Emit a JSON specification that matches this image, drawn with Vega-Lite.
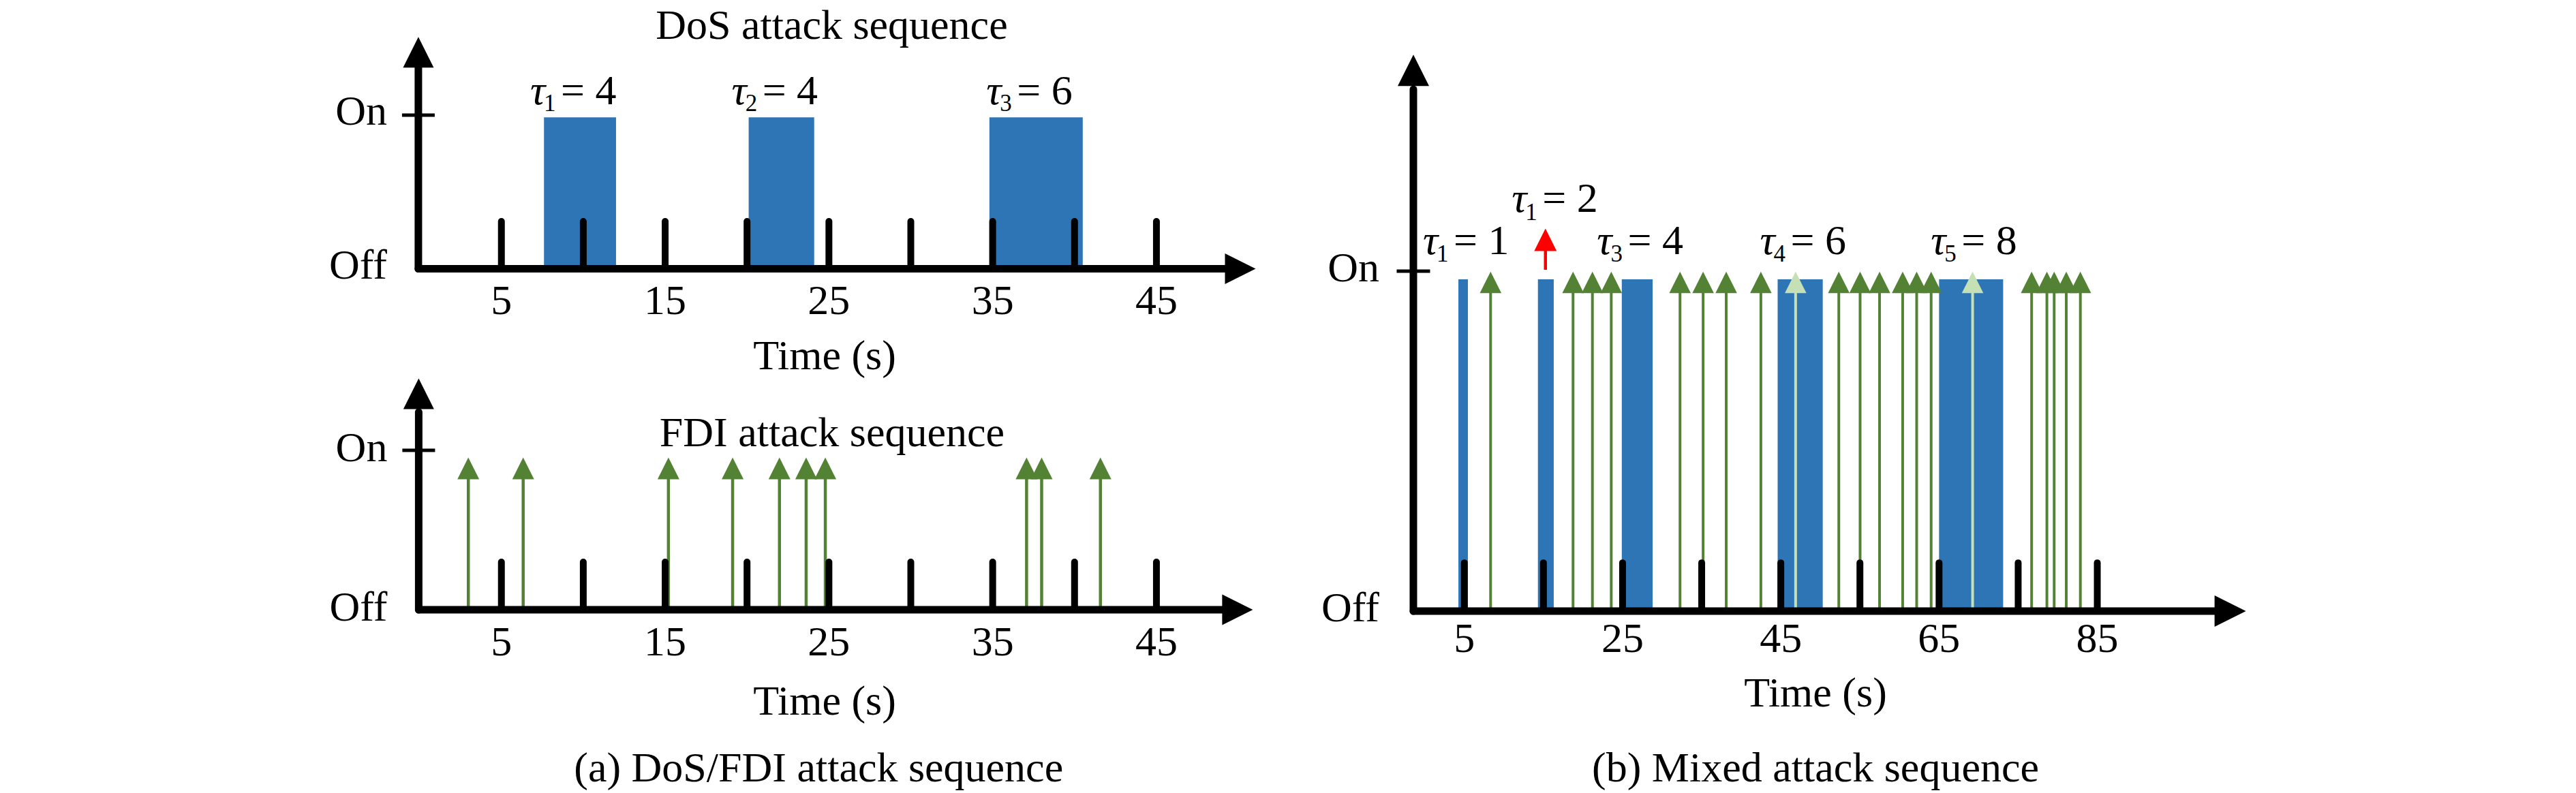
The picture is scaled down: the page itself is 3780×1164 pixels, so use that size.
{
  "$schema": "https://vega.github.io/schema/vega-lite/v6.json",
  "width": 3780,
  "height": 1164,
  "autosize": {"type": "fit", "contains": "padding"},
  "padding": 0,
  "background": "#ffffff",
  "config": {
    "view": {"stroke": null},
    "text": {"font": "Liberation Serif", "fontSize": 62, "color": "#000000", "baseline": "alphabetic"}
  },
  "datasets": {
    "one": [{}],
    "levels": [{"state": "Off", "v": 0}, {"state": "On", "v": 1}],
    "pulsesA": [{"t": 5}, {"t": 10}, {"t": 15}, {"t": 20}, {"t": 25}, {"t": 30}, {"t": 35}, {"t": 40}, {"t": 45}],
    "ticksA": [{"t": 5}, {"t": 15}, {"t": 25}, {"t": 35}, {"t": 45}],
    "dosA": [
      {"start": 7.6, "end": 12.0, "mid": 9.8, "k": "1", "dur": 4, "rhs": "= 4"},
      {"start": 20.1, "end": 24.1, "mid": 22.1, "k": "2", "dur": 4, "rhs": "= 4"},
      {"start": 34.8, "end": 40.5, "mid": 37.65, "k": "3", "dur": 6, "rhs": "= 6"}
    ],
    "fdiA": [{"t": 2.98}, {"t": 6.33}, {"t": 15.2}, {"t": 19.12}, {"t": 21.98}, {"t": 23.61}, {"t": 24.78}, {"t": 37.07}, {"t": 37.99}, {"t": 41.58}],
    "pulsesB": [{"t": 5}, {"t": 15}, {"t": 25}, {"t": 35}, {"t": 45}, {"t": 55}, {"t": 65}, {"t": 75}, {"t": 85}],
    "ticksB": [{"t": 5}, {"t": 25}, {"t": 45}, {"t": 65}, {"t": 85}],
    "dosB": [
      {"start": 4.25, "end": 5.45, "mid": 4.85, "k": "1", "dur": 1, "rhs": "= 1"},
      {"start": 14.3, "end": 16.3, "mid": 15.3, "k": "1", "dur": 2, "rhs": "= 2"},
      {"start": 24.9, "end": 28.8, "mid": 26.85, "k": "3", "dur": 4, "rhs": "= 4"},
      {"start": 44.6, "end": 50.3, "mid": 47.45, "k": "4", "dur": 6, "rhs": "= 6"},
      {"start": 65.0, "end": 73.1, "mid": 69.05, "k": "5", "dur": 8, "rhs": "= 8"}
    ],
    "fdiB": [
      {"t": 8.32, "phase": "normal"}, {"t": 18.74, "phase": "normal"}, {"t": 21.19, "phase": "normal"}, {"t": 23.57, "phase": "normal"},
      {"t": 32.26, "phase": "normal"}, {"t": 35.18, "phase": "normal"}, {"t": 38.1, "phase": "normal"}, {"t": 42.48, "phase": "normal"},
      {"t": 46.87, "phase": "during DoS"}, {"t": 52.33, "phase": "normal"}, {"t": 55.02, "phase": "normal"}, {"t": 57.48, "phase": "normal"},
      {"t": 60.4, "phase": "normal"}, {"t": 62.17, "phase": "normal"}, {"t": 64.0, "phase": "normal"}, {"t": 69.24, "phase": "during DoS"},
      {"t": 76.7, "phase": "normal"}, {"t": 78.63, "phase": "normal"}, {"t": 79.55, "phase": "normal"}, {"t": 81.08, "phase": "normal"}, {"t": 82.86, "phase": "normal"}
    ],
    "redB": [{"t": 15.25}]
  },
  "layer": [
    {
      "layer": [
        {"data": {"name": "dosA"}, "mark": {"type": "rect", "color": "#2E75B6"},
         "encoding": {"x": {"field": "start", "type": "quantitative", "scale": {"domain": [-25.618, 131.686], "nice": false, "zero": false}, "axis": null}, "x2": {"field": "end"},
                      "y": {"datum": 0, "type": "quantitative", "scale": {"domain": [-3.4124, 1.7494], "nice": false, "zero": false}, "axis": null}, "y2": {"datum": 0.985}}},
        {"data": {"name": "pulsesA"}, "mark": {"type": "rule", "color": "#000000", "strokeWidth": 10, "strokeCap": "round"},
         "encoding": {"x": {"field": "t", "type": "quantitative", "scale": {"domain": [-25.618, 131.686], "nice": false, "zero": false}, "axis": null},
                      "y": {"datum": 0, "type": "quantitative", "scale": {"domain": [-3.4124, 1.7494], "nice": false, "zero": false}, "axis": null}, "y2": {"datum": 0.308}}},
        {"data": {"name": "one"}, "mark": {"type": "rule", "color": "#000000", "strokeWidth": 11, "strokeCap": "round"},
         "encoding": {"x": {"datum": -0.07, "type": "quantitative", "scale": {"domain": [-25.618, 131.686], "nice": false, "zero": false}, "axis": null},
                      "y": {"datum": 0, "type": "quantitative", "scale": {"domain": [-3.4124, 1.7494], "nice": false, "zero": false}, "axis": null}, "y2": {"datum": 1.33}}},
        {"data": {"name": "one"}, "mark": {"type": "rule", "color": "#000000", "strokeWidth": 11, "strokeCap": "round"},
         "encoding": {"x": {"datum": -0.07, "type": "quantitative", "scale": {"domain": [-25.618, 131.686], "nice": false, "zero": false}, "axis": null}, "x2": {"datum": 49.6},
                      "y": {"datum": 0, "type": "quantitative", "scale": {"domain": [-3.4124, 1.7494], "nice": false, "zero": false}, "axis": null}}},
        {"data": {"name": "one"}, "mark": {"type": "point", "shape": "M0,-1L1,1L-1,1Z", "size": 2025, "filled": true, "color": "#000000", "opacity": 1, "strokeWidth": 0},
         "encoding": {"x": {"datum": -0.07, "type": "quantitative", "scale": {"domain": [-25.618, 131.686], "nice": false, "zero": false}, "axis": null},
                      "y": {"datum": 1.409, "type": "quantitative", "scale": {"domain": [-3.4124, 1.7494], "nice": false, "zero": false}, "axis": null}}},
        {"data": {"name": "one"}, "mark": {"type": "point", "shape": "M-1,-1L1,0L-1,1Z", "size": 2025, "filled": true, "color": "#000000", "opacity": 1, "strokeWidth": 0},
         "encoding": {"x": {"datum": 50.12, "type": "quantitative", "scale": {"domain": [-25.618, 131.686], "nice": false, "zero": false}, "axis": null},
                      "y": {"datum": 0, "type": "quantitative", "scale": {"domain": [-3.4124, 1.7494], "nice": false, "zero": false}, "axis": null}}},
        {"data": {"name": "one"}, "mark": {"type": "tick", "orient": "horizontal", "size": 48, "thickness": 5, "color": "#000000", "opacity": 1},
         "encoding": {"x": {"datum": -0.07, "type": "quantitative", "scale": {"domain": [-25.618, 131.686], "nice": false, "zero": false}, "axis": null},
                      "y": {"datum": 1, "type": "quantitative", "scale": {"domain": [-3.4124, 1.7494], "nice": false, "zero": false}, "axis": null}}},
        {"data": {"name": "levels"}, "mark": {"type": "text", "align": "right", "dx": -46, "dy": 14.5},
         "encoding": {"x": {"datum": -0.07, "type": "quantitative", "scale": {"domain": [-25.618, 131.686], "nice": false, "zero": false}, "axis": null},
                      "y": {"field": "v", "type": "quantitative", "scale": {"domain": [-3.4124, 1.7494], "nice": false, "zero": false}, "axis": null},
                      "text": {"field": "state"}}},
        {"data": {"name": "ticksA"}, "mark": {"type": "text", "align": "center", "dy": 67},
         "encoding": {"x": {"field": "t", "type": "quantitative", "scale": {"domain": [-25.618, 131.686], "nice": false, "zero": false}, "axis": null},
                      "y": {"datum": 0, "type": "quantitative", "scale": {"domain": [-3.4124, 1.7494], "nice": false, "zero": false}, "axis": null},
                      "text": {"field": "t", "type": "quantitative"}}},
        {"data": {"name": "one"}, "mark": {"type": "text", "align": "center", "text": "Time (s)", "dy": 148},
         "encoding": {"x": {"datum": 24.74, "type": "quantitative", "scale": {"domain": [-25.618, 131.686], "nice": false, "zero": false}, "axis": null},
                      "y": {"datum": 0, "type": "quantitative", "scale": {"domain": [-3.4124, 1.7494], "nice": false, "zero": false}, "axis": null}}},
        {"data": {"name": "one"}, "mark": {"type": "text", "align": "center", "text": "DoS attack sequence"},
         "encoding": {"x": {"datum": 25.17, "type": "quantitative", "scale": {"domain": [-25.618, 131.686], "nice": false, "zero": false}, "axis": null},
                      "y": {"datum": 1.4967, "type": "quantitative", "scale": {"domain": [-3.4124, 1.7494], "nice": false, "zero": false}, "axis": null}}},
        {"data": {"name": "dosA"}, "mark": {"type": "text", "align": "center", "text": "τ", "fontStyle": "italic", "dx": -62},
         "encoding": {"x": {"field": "mid", "type": "quantitative", "scale": {"domain": [-25.618, 131.686], "nice": false, "zero": false}, "axis": null},
                      "y": {"datum": 1.071, "type": "quantitative", "scale": {"domain": [-3.4124, 1.7494], "nice": false, "zero": false}, "axis": null}}},
        {"data": {"name": "dosA"}, "mark": {"type": "text", "align": "left", "fontSize": 35, "dx": -53, "dy": 10},
         "encoding": {"x": {"field": "mid", "type": "quantitative", "scale": {"domain": [-25.618, 131.686], "nice": false, "zero": false}, "axis": null},
                      "y": {"datum": 1.071, "type": "quantitative", "scale": {"domain": [-3.4124, 1.7494], "nice": false, "zero": false}, "axis": null},
                      "text": {"field": "k"}}},
        {"data": {"name": "dosA"}, "mark": {"type": "text", "align": "left", "dx": -28},
         "encoding": {"x": {"field": "mid", "type": "quantitative", "scale": {"domain": [-25.618, 131.686], "nice": false, "zero": false}, "axis": null},
                      "y": {"datum": 1.071, "type": "quantitative", "scale": {"domain": [-3.4124, 1.7494], "nice": false, "zero": false}, "axis": null},
                      "text": {"field": "rhs"}}}
      ]
    },
    {
      "layer": [
        {"data": {"name": "fdiA"}, "mark": {"type": "rule", "color": "#548235", "strokeWidth": 4.5},
         "encoding": {"x": {"field": "t", "type": "quantitative", "scale": {"domain": [-25.618, 131.686], "nice": false, "zero": false}, "axis": null},
                      "y": {"datum": 0, "type": "quantitative", "scale": {"domain": [-1.1496, 3.8248], "nice": false, "zero": false}, "axis": null}, "y2": {"datum": 0.82}}},
        {"data": {"name": "fdiA"}, "mark": {"type": "point", "shape": "M0,-1L1,1L-1,1Z", "size": 1024, "filled": true, "color": "#548235", "opacity": 1, "strokeWidth": 0},
         "encoding": {"x": {"field": "t", "type": "quantitative", "scale": {"domain": [-25.618, 131.686], "nice": false, "zero": false}, "axis": null},
                      "y": {"datum": 0.887, "type": "quantitative", "scale": {"domain": [-1.1496, 3.8248], "nice": false, "zero": false}, "axis": null}}},
        {"data": {"name": "pulsesA"}, "mark": {"type": "rule", "color": "#000000", "strokeWidth": 10, "strokeCap": "round"},
         "encoding": {"x": {"field": "t", "type": "quantitative", "scale": {"domain": [-25.618, 131.686], "nice": false, "zero": false}, "axis": null},
                      "y": {"datum": 0, "type": "quantitative", "scale": {"domain": [-1.1496, 3.8248], "nice": false, "zero": false}, "axis": null}, "y2": {"datum": 0.299}}},
        {"data": {"name": "one"}, "mark": {"type": "rule", "color": "#000000", "strokeWidth": 11, "strokeCap": "round"},
         "encoding": {"x": {"datum": -0.05, "type": "quantitative", "scale": {"domain": [-25.618, 131.686], "nice": false, "zero": false}, "axis": null},
                      "y": {"datum": 0, "type": "quantitative", "scale": {"domain": [-1.1496, 3.8248], "nice": false, "zero": false}, "axis": null}, "y2": {"datum": 1.24}}},
        {"data": {"name": "one"}, "mark": {"type": "rule", "color": "#000000", "strokeWidth": 11, "strokeCap": "round"},
         "encoding": {"x": {"datum": -0.05, "type": "quantitative", "scale": {"domain": [-25.618, 131.686], "nice": false, "zero": false}, "axis": null}, "x2": {"datum": 49.4},
                      "y": {"datum": 0, "type": "quantitative", "scale": {"domain": [-1.1496, 3.8248], "nice": false, "zero": false}, "axis": null}}},
        {"data": {"name": "one"}, "mark": {"type": "point", "shape": "M0,-1L1,1L-1,1Z", "size": 2025, "filled": true, "color": "#000000", "opacity": 1, "strokeWidth": 0},
         "encoding": {"x": {"datum": -0.05, "type": "quantitative", "scale": {"domain": [-25.618, 131.686], "nice": false, "zero": false}, "axis": null},
                      "y": {"datum": 1.355, "type": "quantitative", "scale": {"domain": [-1.1496, 3.8248], "nice": false, "zero": false}, "axis": null}}},
        {"data": {"name": "one"}, "mark": {"type": "point", "shape": "M-1,-1L1,0L-1,1Z", "size": 2025, "filled": true, "color": "#000000", "opacity": 1, "strokeWidth": 0},
         "encoding": {"x": {"datum": 49.95, "type": "quantitative", "scale": {"domain": [-25.618, 131.686], "nice": false, "zero": false}, "axis": null},
                      "y": {"datum": 0, "type": "quantitative", "scale": {"domain": [-1.1496, 3.8248], "nice": false, "zero": false}, "axis": null}}},
        {"data": {"name": "one"}, "mark": {"type": "tick", "orient": "horizontal", "size": 48, "thickness": 5, "color": "#000000", "opacity": 1},
         "encoding": {"x": {"datum": -0.05, "type": "quantitative", "scale": {"domain": [-25.618, 131.686], "nice": false, "zero": false}, "axis": null},
                      "y": {"datum": 1, "type": "quantitative", "scale": {"domain": [-1.1496, 3.8248], "nice": false, "zero": false}, "axis": null}}},
        {"data": {"name": "levels"}, "mark": {"type": "text", "align": "right", "dx": -46, "dy": 16.5},
         "encoding": {"x": {"datum": -0.05, "type": "quantitative", "scale": {"domain": [-25.618, 131.686], "nice": false, "zero": false}, "axis": null},
                      "y": {"field": "v", "type": "quantitative", "scale": {"domain": [-1.1496, 3.8248], "nice": false, "zero": false}, "axis": null},
                      "text": {"field": "state"}}},
        {"data": {"name": "ticksA"}, "mark": {"type": "text", "align": "center", "dy": 67},
         "encoding": {"x": {"field": "t", "type": "quantitative", "scale": {"domain": [-25.618, 131.686], "nice": false, "zero": false}, "axis": null},
                      "y": {"datum": 0, "type": "quantitative", "scale": {"domain": [-1.1496, 3.8248], "nice": false, "zero": false}, "axis": null},
                      "text": {"field": "t", "type": "quantitative"}}},
        {"data": {"name": "one"}, "mark": {"type": "text", "align": "center", "text": "Time (s)", "dy": 154},
         "encoding": {"x": {"datum": 24.74, "type": "quantitative", "scale": {"domain": [-25.618, 131.686], "nice": false, "zero": false}, "axis": null},
                      "y": {"datum": 0, "type": "quantitative", "scale": {"domain": [-1.1496, 3.8248], "nice": false, "zero": false}, "axis": null}}},
        {"data": {"name": "one"}, "mark": {"type": "text", "align": "center", "text": "FDI attack sequence"},
         "encoding": {"x": {"datum": 25.19, "type": "quantitative", "scale": {"domain": [-25.618, 131.686], "nice": false, "zero": false}, "axis": null},
                      "y": {"datum": 1.0256, "type": "quantitative", "scale": {"domain": [-1.1496, 3.8248], "nice": false, "zero": false}, "axis": null}}},
        {"data": {"name": "one"}, "mark": {"type": "text", "align": "center", "text": "(a) DoS/FDI attack sequence"},
         "encoding": {"x": {"datum": 24.37, "type": "quantitative", "scale": {"domain": [-25.618, 131.686], "nice": false, "zero": false}, "axis": null},
                      "y": {"datum": -1.0769, "type": "quantitative", "scale": {"domain": [-1.1496, 3.8248], "nice": false, "zero": false}, "axis": null}}}
      ]
    },
    {
      "layer": [
        {"data": {"name": "dosB"}, "mark": {"type": "rect", "color": "#2E75B6"},
         "encoding": {"x": {"field": "start", "type": "quantitative", "scale": {"domain": [-180.078, 145.504], "nice": false, "zero": false}, "axis": null}, "x2": {"field": "end"},
                      "y": {"datum": 0, "type": "quantitative", "scale": {"domain": [-0.53507, 1.7976], "nice": false, "zero": false}, "axis": null}, "y2": {"datum": 0.976}}},
        {"data": {"name": "fdiB"}, "mark": {"type": "rule", "strokeWidth": 4},
         "encoding": {"x": {"field": "t", "type": "quantitative", "scale": {"domain": [-180.078, 145.504], "nice": false, "zero": false}, "axis": null},
                      "y": {"datum": 0, "type": "quantitative", "scale": {"domain": [-0.53507, 1.7976], "nice": false, "zero": false}, "axis": null}, "y2": {"datum": 0.936},
                      "color": {"field": "phase", "type": "nominal", "scale": {"domain": ["normal", "during DoS"], "range": ["#548235", "#C5E0B4"]}, "legend": null}}},
        {"data": {"name": "fdiB"}, "mark": {"type": "point", "shape": "M0,-1L1,1L-1,1Z", "size": 1000, "filled": true, "opacity": 1, "strokeWidth": 0},
         "encoding": {"x": {"field": "t", "type": "quantitative", "scale": {"domain": [-180.078, 145.504], "nice": false, "zero": false}, "axis": null},
                      "y": {"datum": 0.967, "type": "quantitative", "scale": {"domain": [-0.53507, 1.7976], "nice": false, "zero": false}, "axis": null},
                      "color": {"field": "phase", "type": "nominal", "scale": {"domain": ["normal", "during DoS"], "range": ["#548235", "#C5E0B4"]}, "legend": null}}},
        {"data": {"name": "redB"}, "mark": {"type": "rule", "color": "#FF0000", "strokeWidth": 4.5},
         "encoding": {"x": {"field": "t", "type": "quantitative", "scale": {"domain": [-180.078, 145.504], "nice": false, "zero": false}, "axis": null},
                      "y": {"datum": 1.004, "type": "quantitative", "scale": {"domain": [-0.53507, 1.7976], "nice": false, "zero": false}, "axis": null}, "y2": {"datum": 1.06}}},
        {"data": {"name": "redB"}, "mark": {"type": "point", "shape": "M0,-1L1,1L-1,1Z", "size": 1089, "filled": true, "color": "#FF0000", "opacity": 1, "strokeWidth": 0},
         "encoding": {"x": {"field": "t", "type": "quantitative", "scale": {"domain": [-180.078, 145.504], "nice": false, "zero": false}, "axis": null},
                      "y": {"datum": 1.092, "type": "quantitative", "scale": {"domain": [-0.53507, 1.7976], "nice": false, "zero": false}, "axis": null}}},
        {"data": {"name": "pulsesB"}, "mark": {"type": "rule", "color": "#000000", "strokeWidth": 10, "strokeCap": "round"},
         "encoding": {"x": {"field": "t", "type": "quantitative", "scale": {"domain": [-180.078, 145.504], "nice": false, "zero": false}, "axis": null},
                      "y": {"datum": 0, "type": "quantitative", "scale": {"domain": [-0.53507, 1.7976], "nice": false, "zero": false}, "axis": null}, "y2": {"datum": 0.142}}},
        {"data": {"name": "one"}, "mark": {"type": "rule", "color": "#000000", "strokeWidth": 11, "strokeCap": "round"},
         "encoding": {"x": {"datum": -1.44, "type": "quantitative", "scale": {"domain": [-180.078, 145.504], "nice": false, "zero": false}, "axis": null},
                      "y": {"datum": 0, "type": "quantitative", "scale": {"domain": [-0.53507, 1.7976], "nice": false, "zero": false}, "axis": null}, "y2": {"datum": 1.535}}},
        {"data": {"name": "one"}, "mark": {"type": "rule", "color": "#000000", "strokeWidth": 11, "strokeCap": "round"},
         "encoding": {"x": {"datum": -1.44, "type": "quantitative", "scale": {"domain": [-180.078, 145.504], "nice": false, "zero": false}, "axis": null}, "x2": {"datum": 100.2},
                      "y": {"datum": 0, "type": "quantitative", "scale": {"domain": [-0.53507, 1.7976], "nice": false, "zero": false}, "axis": null}}},
        {"data": {"name": "one"}, "mark": {"type": "point", "shape": "M0,-1L1,1L-1,1Z", "size": 2116, "filled": true, "color": "#000000", "opacity": 1, "strokeWidth": 0},
         "encoding": {"x": {"datum": -1.44, "type": "quantitative", "scale": {"domain": [-180.078, 145.504], "nice": false, "zero": false}, "axis": null},
                      "y": {"datum": 1.5906, "type": "quantitative", "scale": {"domain": [-0.53507, 1.7976], "nice": false, "zero": false}, "axis": null}}},
        {"data": {"name": "one"}, "mark": {"type": "point", "shape": "M-1,-1L1,0L-1,1Z", "size": 2116, "filled": true, "color": "#000000", "opacity": 1, "strokeWidth": 0},
         "encoding": {"x": {"datum": 101.8, "type": "quantitative", "scale": {"domain": [-180.078, 145.504], "nice": false, "zero": false}, "axis": null},
                      "y": {"datum": 0, "type": "quantitative", "scale": {"domain": [-0.53507, 1.7976], "nice": false, "zero": false}, "axis": null}}},
        {"data": {"name": "one"}, "mark": {"type": "tick", "orient": "horizontal", "size": 49, "thickness": 5, "color": "#000000", "opacity": 1},
         "encoding": {"x": {"datum": -1.44, "type": "quantitative", "scale": {"domain": [-180.078, 145.504], "nice": false, "zero": false}, "axis": null},
                      "y": {"datum": 1, "type": "quantitative", "scale": {"domain": [-0.53507, 1.7976], "nice": false, "zero": false}, "axis": null}}},
        {"data": {"name": "levels"}, "mark": {"type": "text", "align": "right", "dx": -50, "dy": 15},
         "encoding": {"x": {"datum": -1.44, "type": "quantitative", "scale": {"domain": [-180.078, 145.504], "nice": false, "zero": false}, "axis": null},
                      "y": {"field": "v", "type": "quantitative", "scale": {"domain": [-0.53507, 1.7976], "nice": false, "zero": false}, "axis": null},
                      "text": {"field": "state"}}},
        {"data": {"name": "ticksB"}, "mark": {"type": "text", "align": "center", "dy": 60},
         "encoding": {"x": {"field": "t", "type": "quantitative", "scale": {"domain": [-180.078, 145.504], "nice": false, "zero": false}, "axis": null},
                      "y": {"datum": 0, "type": "quantitative", "scale": {"domain": [-0.53507, 1.7976], "nice": false, "zero": false}, "axis": null},
                      "text": {"field": "t", "type": "quantitative"}}},
        {"data": {"name": "one"}, "mark": {"type": "text", "align": "center", "text": "Time (s)", "dy": 140},
         "encoding": {"x": {"datum": 49.38, "type": "quantitative", "scale": {"domain": [-180.078, 145.504], "nice": false, "zero": false}, "axis": null},
                      "y": {"datum": 0, "type": "quantitative", "scale": {"domain": [-0.53507, 1.7976], "nice": false, "zero": false}, "axis": null}}},
        {"data": {"name": "one"}, "mark": {"type": "text", "align": "center", "text": "(b) Mixed attack sequence"},
         "encoding": {"x": {"datum": 49.38, "type": "quantitative", "scale": {"domain": [-180.078, 145.504], "nice": false, "zero": false}, "axis": null},
                      "y": {"datum": -0.501, "type": "quantitative", "scale": {"domain": [-0.53507, 1.7976], "nice": false, "zero": false}, "axis": null}}},
        {"data": {"name": "dosB"}, "transform": [{"filter": "datum.dur != 2"}], "mark": {"type": "text", "align": "center", "text": "τ", "fontStyle": "italic", "dx": -48},
         "encoding": {"x": {"field": "mid", "type": "quantitative", "scale": {"domain": [-180.078, 145.504], "nice": false, "zero": false}, "axis": null},
                      "y": {"datum": 1.05, "type": "quantitative", "scale": {"domain": [-0.53507, 1.7976], "nice": false, "zero": false}, "axis": null}}},
        {"data": {"name": "dosB"}, "transform": [{"filter": "datum.dur != 2"}], "mark": {"type": "text", "align": "left", "fontSize": 35, "dx": -39, "dy": 11},
         "encoding": {"x": {"field": "mid", "type": "quantitative", "scale": {"domain": [-180.078, 145.504], "nice": false, "zero": false}, "axis": null},
                      "y": {"datum": 1.05, "type": "quantitative", "scale": {"domain": [-0.53507, 1.7976], "nice": false, "zero": false}, "axis": null},
                      "text": {"field": "k"}}},
        {"data": {"name": "dosB"}, "transform": [{"filter": "datum.dur != 2"}], "mark": {"type": "text", "align": "left", "dx": -14},
         "encoding": {"x": {"field": "mid", "type": "quantitative", "scale": {"domain": [-180.078, 145.504], "nice": false, "zero": false}, "axis": null},
                      "y": {"datum": 1.05, "type": "quantitative", "scale": {"domain": [-0.53507, 1.7976], "nice": false, "zero": false}, "axis": null},
                      "text": {"field": "rhs"}}},
        {"data": {"name": "dosB"}, "transform": [{"filter": "datum.dur == 2"}], "mark": {"type": "text", "align": "center", "text": "τ", "fontStyle": "italic", "dx": -39},
         "encoding": {"x": {"field": "mid", "type": "quantitative", "scale": {"domain": [-180.078, 145.504], "nice": false, "zero": false}, "axis": null},
                      "y": {"datum": 1.174, "type": "quantitative", "scale": {"domain": [-0.53507, 1.7976], "nice": false, "zero": false}, "axis": null}}},
        {"data": {"name": "dosB"}, "transform": [{"filter": "datum.dur == 2"}], "mark": {"type": "text", "align": "left", "fontSize": 35, "dx": -30, "dy": 12},
         "encoding": {"x": {"field": "mid", "type": "quantitative", "scale": {"domain": [-180.078, 145.504], "nice": false, "zero": false}, "axis": null},
                      "y": {"datum": 1.174, "type": "quantitative", "scale": {"domain": [-0.53507, 1.7976], "nice": false, "zero": false}, "axis": null},
                      "text": {"field": "k"}}},
        {"data": {"name": "dosB"}, "transform": [{"filter": "datum.dur == 2"}], "mark": {"type": "text", "align": "left", "dx": -5},
         "encoding": {"x": {"field": "mid", "type": "quantitative", "scale": {"domain": [-180.078, 145.504], "nice": false, "zero": false}, "axis": null},
                      "y": {"datum": 1.174, "type": "quantitative", "scale": {"domain": [-0.53507, 1.7976], "nice": false, "zero": false}, "axis": null},
                      "text": {"field": "rhs"}}}
      ]
    }
  ],
  "resolve": {"scale": {"x": "independent", "y": "independent"}}
}
